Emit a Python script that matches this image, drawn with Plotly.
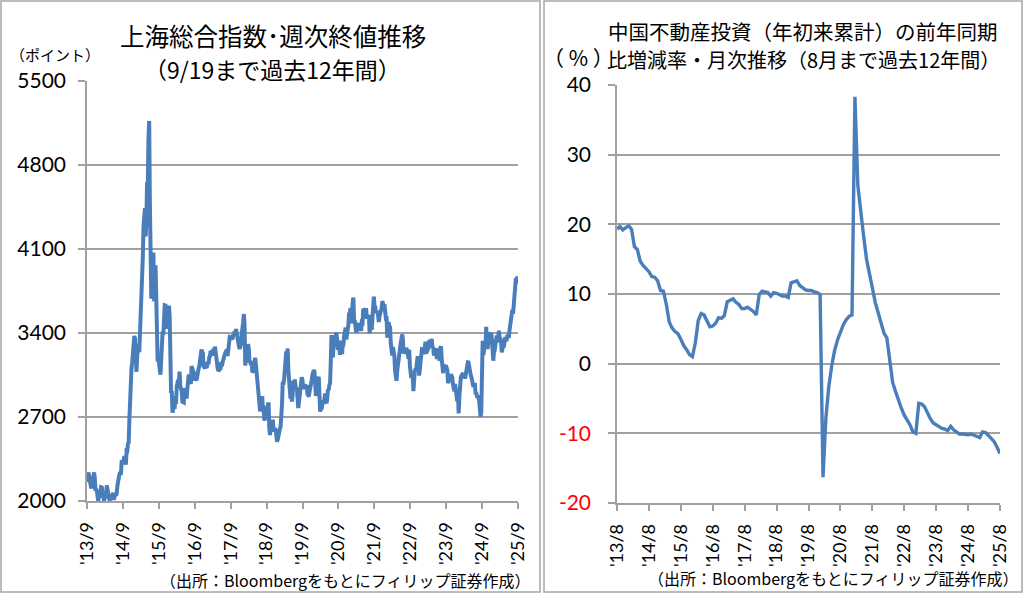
import plotly.graph_objects as go

# ---------------- Left chart data: Shanghai Composite weekly closes ----------------
sh_2013 = [2191, 2160, 2238, 2193, 2133, 2149, 2106, 2135, 2197, 2220, 2238, 2196, 2085, 2101]
sh_2014 = [2083, 2013, 1995, 2054, 2033, 2044, 2115, 2113, 2056, 2057, 1998, 2047, 2041, 2058, 2130, 2098,
           2036, 2026, 2005, 2026, 2034, 2039, 2030, 2070, 2010, 2036, 2059, 2047, 2059, 2126, 2185, 2194,
           2226, 2240, 2217, 2326, 2331, 2329, 2347, 2374, 2341, 2302, 2420, 2418, 2478, 2487, 2683, 2938,
           2938, 3108, 3157, 3235]
sh_2015 = [3285, 3376, 3351, 3210, 3076, 3203, 3247, 3310, 3241, 3372, 3617, 3691, 3863, 4034, 4287, 4393,
           4441, 4205, 4308, 4657, 4611, 5023, 5166, 4478, 4193, 3686, 3877, 3957, 4070, 3664, 3744, 3965,
           3508, 3232, 3160, 3200, 3097, 3092, 3053, 3183, 3391, 3412, 3383, 3590, 3632, 3630, 3436, 3525,
           3435, 3578, 3628, 3539]
sh_2016 = [3186, 2900, 2916, 2737, 2763, 2860, 2767, 2874, 2810, 2955, 2979, 3009, 2985, 3078, 2960, 2938,
           2913, 2827, 2825, 2821, 2938, 2927, 2885, 2854, 2932, 2989, 3054, 3012, 2979, 2976, 3125, 3108,
           3070, 3067, 3078, 3002, 3033, 3005, 3063, 3091, 3104, 3125, 3196, 3192, 3262, 3243, 3232, 3123,
           3110, 3104]
sh_2017 = [3154, 3112, 3123, 3159, 3140, 3197, 3202, 3253, 3218, 3212, 3237, 3269, 3223, 3287, 3246, 3173,
           3155, 3103, 3083, 3090, 3107, 3105, 3158, 3123, 3158, 3192, 3218, 3222, 3238, 3253, 3262, 3209,
           3268, 3332, 3367, 3365, 3354, 3353, 3349, 3391, 3378, 3417, 3372, 3433, 3383, 3353, 3317, 3289,
           3267, 3297, 3307]
sh_2018 = [3392, 3429, 3488, 3558, 3462, 3129, 3199, 3289, 3254, 3307, 3269, 3153, 3169, 3131, 3159, 3071,
           3082, 3091, 3163, 3193, 3141, 3075, 3067, 3022, 2889, 2847, 2747, 2831, 2829, 2874, 2740, 2795,
           2669, 2730, 2725, 2702, 2682, 2797, 2821, 2606, 2550, 2599, 2676, 2599, 2679, 2579, 2588, 2606,
           2594, 2516, 2494]
sh_2019 = [2514, 2554, 2596, 2601, 2618, 2682, 2804, 2994, 2969, 3021, 3104, 3091, 3247, 3189, 3271, 3086,
           2939, 2882, 2853, 2899, 2828, 2882, 3001, 2979, 3012, 2931, 2925, 2945, 2868, 2775, 2824, 2898,
           2886, 2999, 3031, 3007, 2932, 2974, 2939, 2954, 2958, 2964, 2891, 2885, 2872, 2912, 2968, 3005,
           3006, 3050]
sh_2020 = [3084, 3092, 3075, 2977, 2876, 2917, 3040, 2880, 3034, 2887, 2745, 2772, 2764, 2797, 2839, 2809,
           2860, 2896, 2868, 2813, 2852, 2931, 2920, 2967, 2980, 3152, 3383, 3214, 3196, 3310, 3354, 3360,
           3380, 3404, 3355, 3260, 3338, 3219, 3218, 3336, 3278, 3225, 3312, 3310, 3378, 3408, 3445, 3347,
           3394, 3397, 3473]
sh_2021 = [3570, 3566, 3607, 3483, 3496, 3656, 3696, 3509, 3502, 3453, 3405, 3418, 3484, 3451, 3426, 3474,
           3447, 3419, 3490, 3487, 3601, 3592, 3589, 3525, 3607, 3519, 3525, 3539, 3550, 3397, 3458, 3516,
           3427, 3522, 3581, 3703, 3613, 3613, 3568, 3572, 3582, 3547, 3491, 3539, 3560, 3564, 3607, 3666,
           3632, 3618, 3640]
sh_2022 = [3580, 3521, 3522, 3361, 3463, 3491, 3451, 3448, 3310, 3251, 3212, 3282, 3252, 3211, 3087, 3047,
           3002, 3084, 3147, 3130, 3196, 3285, 3317, 3350, 3388, 3356, 3228, 3270, 3253, 3227, 3277, 3258,
           3236, 3186, 3262, 3126, 3088, 3024, 3072, 3038, 2916, 3071, 3087, 3097, 3102, 3156, 3206, 3167,
           3045, 3089]
sh_2023 = [3158, 3195, 3265, 3263, 3261, 3224, 3267, 3328, 3230, 3250, 3266, 3273, 3327, 3338, 3301, 3323,
           3350, 3272, 3283, 3212, 3231, 3231, 3273, 3197, 3202, 3197, 3237, 3168, 3276, 3288, 3189, 3132,
           3065, 3133, 3117, 3118, 3132, 3110, 3088, 2983, 3017, 3030, 3038, 3054, 3041, 3032, 2970, 2942,
           2914, 2975]
sh_2024 = [2929, 2882, 2832, 2910, 2730, 2866, 3005, 3027, 3046, 3054, 3048, 3041, 3069, 3019, 3065, 3088,
           3105, 3155, 3154, 3089, 3087, 3051, 3033, 2998, 2967, 2950, 2971, 2982, 2891, 2905, 2862, 2879,
           2855, 2842, 2765, 2704, 2736, 3088, 3336, 3217, 3261, 3300, 3272, 3452, 3331, 3267, 3326, 3404,
           3391, 3368, 3400, 3352]
sh_2025 = [3212, 3169, 3241, 3252, 3303, 3346, 3379, 3320, 3372, 3419, 3364, 3351, 3342, 3238, 3277, 3295,
           3279, 3342, 3367, 3348, 3347, 3386, 3377, 3359, 3424, 3473, 3510, 3534, 3594, 3560, 3635, 3697,
           3826, 3858, 3812, 3871, 3820]

sh_ticks = ["'13/9", "'14/9", "'15/9", "'16/9", "'17/9", "'18/9", "'19/9",
            "'20/9", "'21/9", "'22/9", "'23/9", "'24/9", "'25/9"]
sh_yvals = [2000, 2700, 3400, 4100, 4800, 5500]

# ---------------- Right chart data: China property investment YTD YoY (%) ----------------
re_2013 = [19.3, 19.7, 19.2, 19.5, 19.8]
re_2014 = [19.3, 16.8, 16.4, 14.7, 14.1, 13.7, 13.2, 12.5, 12.4, 11.9, 10.5]
re_2015 = [10.4, 8.5, 6.0, 5.1, 4.6, 4.3, 3.5, 2.6, 2.0, 1.3, 1.0]
re_2016 = [3.0, 6.2, 7.2, 7.0, 6.1, 5.3, 5.4, 5.8, 6.6, 6.5, 6.9]
re_2017 = [8.9, 9.1, 9.3, 8.8, 8.5, 7.9, 7.9, 8.1, 7.8, 7.5, 7.0]
re_2018 = [9.9, 10.4, 10.3, 10.2, 9.7, 10.2, 10.1, 9.9, 9.7, 9.7, 9.5]
re_2019 = [11.6, 11.8, 11.9, 11.2, 10.9, 10.6, 10.5, 10.5, 10.3, 10.2, 9.9]
re_2020 = [-16.3, -7.7, -3.3, -0.3, 1.9, 3.4, 4.6, 5.6, 6.3, 6.8, 7.0]
re_2021 = [38.3, 25.6, 21.6, 18.3, 15.0, 12.7, 10.9, 8.8, 7.2, 6.0, 4.4]
re_2022 = [3.7, 0.7, -2.7, -4.0, -5.4, -6.4, -7.4, -8.0, -8.8, -9.8, -10.0]
re_2023 = [-5.7, -5.8, -6.2, -7.2, -7.9, -8.5, -8.8, -9.1, -9.3, -9.4, -9.6]
re_2024 = [-9.0, -9.5, -9.8, -10.1, -10.1, -10.2, -10.2, -10.1, -10.3, -10.4, -10.6]
re_2025 = [-9.8, -9.9, -10.3, -10.7, -11.2, -12.0, -12.9]

re_ticks = ["'13/8", "'14/8", "'15/8", "'16/8", "'17/8", "'18/8", "'19/8",
            "'20/8", "'21/8", "'22/8", "'23/8", "'24/8", "'25/8"]
re_yvals = [-20, -10, 0, 10, 20, 30, 40]

# ---------------- Build ----------------
sh = (sh_2013 + sh_2014 + sh_2015 + sh_2016 + sh_2017 + sh_2018 + sh_2019 + sh_2020 +
      sh_2021 + sh_2022 + sh_2023 + sh_2024 + sh_2025)
re = (re_2013 + re_2014 + re_2015 + re_2016 + re_2017 + re_2018 + re_2019 + re_2020 +
      re_2021 + re_2022 + re_2023 + re_2024 + re_2025)

W, H = 1024, 594
LINE = "#4a7ebb"
GRID = "#a0a0a0"
NUMFONT = "Lato, Noto Sans CJK JP"
JPFONT = "Noto Sans CJK JP"

def px(x):
    return x / W

def py(y):
    return 1 - y / H

fig = go.Figure()
fig.add_trace(go.Scatter(x=list(range(len(sh))), y=sh, mode="lines",
                         line=dict(color=LINE, width=4), xaxis="x", yaxis="y",
                         showlegend=False, hoverinfo="skip"))
fig.add_trace(go.Scatter(x=list(range(len(re))), y=re, mode="lines",
                         line=dict(color=LINE, width=3.4), xaxis="x2", yaxis="y2",
                         showlegend=False, hoverinfo="skip"))

n1 = len(sh) - 1
n2 = len(re) - 1
sh_tickpos = [i * n1 / 12 for i in range(13)]
re_tickpos = [i * n2 / 12 for i in range(13)]

re_ticktext = [("<span style='color:#ff0000'>%d</span>" % v) if v < 0 else str(v) for v in re_yvals]

common_x = dict(showgrid=False, zeroline=False, showline=True, linecolor=GRID, linewidth=1.5,
                ticks="outside", ticklen=6, tickcolor=GRID, tickwidth=1.5, tickangle=-90,
                tickfont=dict(family=NUMFONT, size=18, color="#000000"), tickmode="array",
                ticklabelstandoff=6, automargin=False)
common_y = dict(showgrid=True, gridcolor=GRID, gridwidth=1.5, zeroline=False, showline=True,
                linecolor=GRID, linewidth=1.5, ticks="outside", ticklen=7, tickcolor=GRID,
                tickwidth=1.5, tickmode="array", automargin=False)

fig.update_layout(
    template="none",
    width=W, height=H, margin=dict(l=0, r=0, t=0, b=0, pad=0), autosize=False,
    paper_bgcolor="white", plot_bgcolor="white",
    xaxis=dict(domain=[px(87), px(518)], range=[0, n1], tickvals=sh_tickpos, ticktext=sh_ticks,
               anchor="y", **common_x),
    yaxis=dict(domain=[py(501), py(81)], range=[2000, 5500], tickvals=sh_yvals,
               ticktext=[str(v) for v in sh_yvals], anchor="x",
               tickfont=dict(family=NUMFONT, size=21, color="#000000"), ticklabelstandoff=8, **common_y),
    xaxis2=dict(domain=[px(617), px(1000)], range=[0, n2], tickvals=re_tickpos, ticktext=re_ticks,
                anchor="y2", **common_x),
    yaxis2=dict(domain=[py(503), py(85)], range=[-20, 40], tickvals=re_yvals, ticktext=re_ticktext,
                anchor="x2", tickfont=dict(family=NUMFONT, size=21, color="#000000"),
                ticklabelstandoff=13, **common_y),
)

# panel borders
fig.add_shape(type="rect", xref="paper", yref="paper", x0=px(1), x1=px(540), y0=py(592), y1=py(1),
              line=dict(color="#a6a6a6", width=1.5), fillcolor="rgba(0,0,0,0)", layer="below")
fig.add_shape(type="rect", xref="paper", yref="paper", x0=px(544), x1=px(1022), y0=py(592), y1=py(1),
              line=dict(color="#a6a6a6", width=1.5), fillcolor="rgba(0,0,0,0)", layer="below")

def ann(text, x, y, size, xanchor="center", family=JPFONT, color="#000000"):
    fig.add_annotation(text=text, xref="paper", yref="paper", x=px(x), y=py(y),
                       xanchor=xanchor, yanchor="middle", showarrow=False,
                       font=dict(family=family, size=size, color=color))

ann("上海総合指数･週次終値推移", 273, 35, 24.5)
ann("（9/19まで過去12年間）", 272, 69, 23)
ann("（ポイント）", 55, 55, 15)
ann("中国不動産投資（年初来累計）の前年同期", 803, 31, 20.5)
ann("比増減率・月次推移（8月まで過去12年間）", 803, 59, 20)
ann("（ % ）", 578, 57, 21)
ann("（出所：Bloombergをもとにフィリップ証券作成）", 532, 580, 16, xanchor="right")
ann("（出所：Bloombergをもとにフィリップ証券作成）", 1020, 578, 16, xanchor="right")

# remove the default 8px page margin so the figure sits at the window's top-left corner
fig.write_html("out.html", config={"displayModeBar": False},
               post_script="document.body.style.margin='0px';")
